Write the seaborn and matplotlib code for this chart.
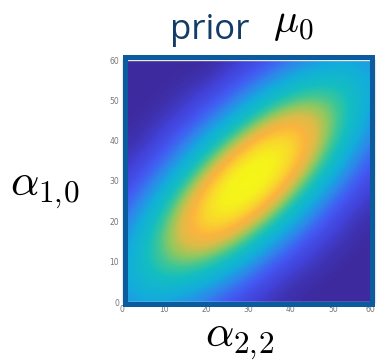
"""
Prior density heatmap (parula-style colormap) with a thick blue frame.
"""
import numpy as np
import matplotlib
matplotlib.use("Agg")
import matplotlib.pyplot as plt
from matplotlib.colors import LinearSegmentedColormap
from matplotlib.patches import Rectangle
import seaborn as sns

# grid positions (both axes) and density values, rows = y from 0 to 60
grid_pos = [0, 5, 10, 15, 20, 25, 30, 35, 40, 45, 50, 55, 60]
density = [
    [0.23, 0.27, 0.26, 0.22, 0.16, 0.09, 0.05, 0.02, 0.01, 0.00, 0.00, 0.00, 0.00],
    [0.27, 0.36, 0.40, 0.38, 0.31, 0.21, 0.12, 0.06, 0.02, 0.01, 0.00, 0.00, 0.00],
    [0.26, 0.40, 0.52, 0.56, 0.51, 0.40, 0.26, 0.14, 0.07, 0.03, 0.01, 0.00, 0.00],
    [0.22, 0.38, 0.56, 0.69, 0.72, 0.63, 0.47, 0.29, 0.16, 0.07, 0.03, 0.01, 0.00],
    [0.16, 0.31, 0.51, 0.72, 0.85, 0.85, 0.71, 0.51, 0.31, 0.16, 0.07, 0.02, 0.01],
    [0.09, 0.21, 0.40, 0.63, 0.85, 0.96, 0.92, 0.74, 0.51, 0.29, 0.14, 0.06, 0.02],
    [0.05, 0.12, 0.26, 0.47, 0.71, 0.92, 1.00, 0.92, 0.71, 0.47, 0.26, 0.12, 0.05],
    [0.02, 0.06, 0.14, 0.29, 0.51, 0.74, 0.92, 0.96, 0.85, 0.63, 0.40, 0.21, 0.09],
    [0.01, 0.02, 0.07, 0.16, 0.31, 0.51, 0.71, 0.85, 0.85, 0.72, 0.51, 0.31, 0.16],
    [0.00, 0.01, 0.03, 0.07, 0.16, 0.29, 0.47, 0.63, 0.72, 0.69, 0.56, 0.38, 0.22],
    [0.00, 0.00, 0.01, 0.03, 0.07, 0.14, 0.26, 0.40, 0.51, 0.56, 0.52, 0.40, 0.26],
    [0.00, 0.00, 0.00, 0.01, 0.02, 0.06, 0.12, 0.21, 0.31, 0.38, 0.40, 0.36, 0.27],
    [0.00, 0.00, 0.00, 0.00, 0.00, 0.02, 0.05, 0.09, 0.16, 0.22, 0.26, 0.27, 0.23],
]
ticks = [0, 10, 20, 30, 40, 50, 60]

title_text = "prior"
title_math = r"$\mu_0$"
xlabel = r"$\alpha_{2,\!2}$"
ylabel = r"$\alpha_{1,\!0}$"

parula = LinearSegmentedColormap.from_list("parula_like", [
    (0.00, "#3D2A9E"),
    (0.05, "#4242D8"),
    (0.11, "#4358F2"),
    (0.20, "#2E88EA"),
    (0.30, "#12AEDA"),
    (0.42, "#14BEC0"),
    (0.50, "#3EC696"),
    (0.58, "#90C860"),
    (0.66, "#DCBC48"),
    (0.74, "#FCB43E"),
    (0.83, "#F9D82C"),
    (0.91, "#F5F21C"),
    (1.00, "#F7FA15"),
])

sns.set_theme(style="white")
plt.rcParams["mathtext.fontset"] = "cm"

fig = plt.figure(figsize=(3.78, 3.61), dpi=100)
ax = fig.add_axes([122 / 378, 59 / 361, 253 / 378, 242 / 361])

step = grid_pos[1] - grid_pos[0]
ax.imshow(np.array(density), origin="lower", cmap=parula, vmin=0, vmax=1,
          interpolation="bicubic", aspect="auto",
          extent=[grid_pos[0] - step / 2, grid_pos[-1] + step / 2,
                  grid_pos[0] - step / 2, grid_pos[-1] + step / 2])
ax.set_xlim(0, 60)
ax.set_ylim(0, 60)
ax.set_xticks(ticks)
ax.set_yticks(ticks)
ax.tick_params(labelsize=5.5, colors="#777777", length=0, pad=2)
ax.get_xticklabels()[-1].set_ha("right")
for sp in ax.spines.values():
    sp.set_color("#e8e8e8")
    sp.set_linewidth(1)

# thick blue frame around the plot
fig.add_artist(Rectangle((124.5 / 378, (361 - 303.5) / 361), (372 - 124.5) / 378,
                         (303.5 - 57) / 361, transform=fig.transFigure,
                         fill=False, edgecolor="#0B5C9E", linewidth=3.6))

fig.text(170 / 378, (361 - 39) / 361, title_text, fontsize=25, color="#123B66",
         family="Open Sans", va="baseline", ha="left")
fig.text(273 / 378, (361 - 32) / 361, title_math, fontsize=30, color="black",
         va="baseline", ha="left")
fig.text(10 / 378, (361 - 195) / 361, ylabel, fontsize=32, color="black",
         va="baseline", ha="left")
fig.text(205 / 378, (361 - 346) / 361, xlabel, fontsize=32, color="black",
         va="baseline", ha="left")

fig.savefig("out.png", dpi=100)
plt.close(fig)
